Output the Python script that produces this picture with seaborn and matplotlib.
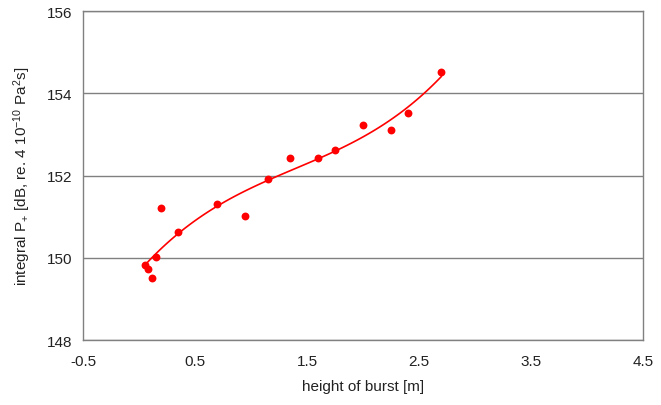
import numpy as np
import pandas as pd
import seaborn as sns
import matplotlib
matplotlib.use('Agg')
import matplotlib.pyplot as plt

height = [0.05, 0.08, 0.12, 0.15, 0.20, 0.35, 0.70, 0.95, 1.15, 1.35,
          1.60, 1.75, 2.00, 2.25, 2.40, 2.70]
level = [149.82, 149.72, 149.50, 150.01, 151.20, 150.62, 151.31, 151.01,
         151.91, 152.42, 152.42, 152.62, 153.22, 153.11, 153.53, 154.52]

x_ticks = [-0.5, 0.5, 1.5, 2.5, 3.5, 4.5]
y_ticks = [148, 150, 152, 154, 156]

df = pd.DataFrame({'height': height, 'level': level})

sns.set_style('white')
plt.rcParams['font.family'] = ['Liberation Sans', 'DejaVu Sans']
plt.rcParams['mathtext.fontset'] = 'custom'
plt.rcParams['mathtext.rm'] = 'Liberation Sans'
plt.rcParams['mathtext.it'] = 'Liberation Sans'

fig = plt.figure(figsize=(6.61, 4.06), dpi=100)
ax = fig.add_axes([0.1256, 0.160, 0.8472, 0.810])

# cubic trendline like the spreadsheet one
sns.regplot(data=df, x='height', y='level', order=3, ci=None, ax=ax,
            color='#ff0000',
            scatter_kws={'s': 32, 'linewidths': 0, 'alpha': 1, 'zorder': 3},
            line_kws={'lw': 1.2, 'zorder': 2})

ax.set_xlim(-0.5, 4.5)
ax.set_ylim(148, 156)
ax.set_xticks(x_ticks)
ax.set_xticklabels([str(t) for t in x_ticks])
ax.set_yticks(y_ticks)

ax.yaxis.grid(True, color='#808080', lw=1.0)
ax.xaxis.grid(False)
ax.set_axisbelow(True)
for s in ax.spines.values():
    s.set_color('#808080')
    s.set_linewidth(1.0)
ax.tick_params(axis='both', length=4, width=1, color='#808080',
               labelsize=11, labelcolor='#222222', direction='out')
ax.tick_params(axis='x', pad=6)
ax.tick_params(axis='y', pad=4)

ax.set_xlabel('height of burst [m]', fontsize=11, color='#222222', labelpad=8)
ax.set_ylabel(r'integral P$_{+}$ [dB, re. 4 10$^{-10}$ Pa$^{2}$s]',
              fontsize=11, color='#222222', labelpad=10)

fig.savefig('out.png', dpi=100)
